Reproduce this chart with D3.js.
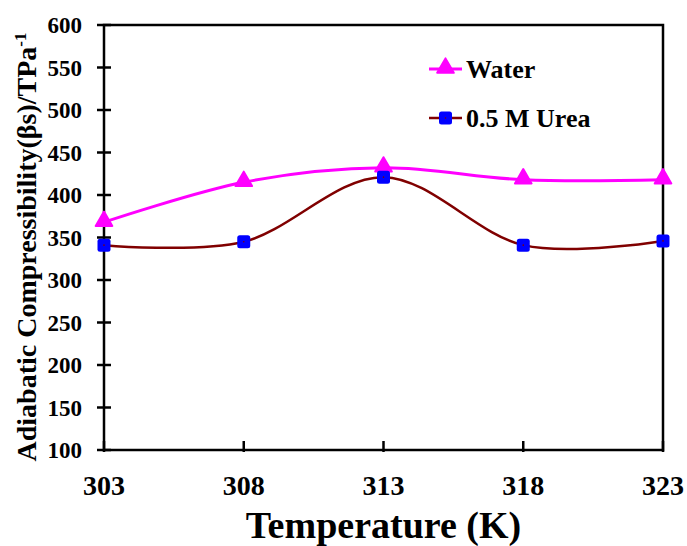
<!DOCTYPE html>
<html>
<head>
<meta charset="utf-8">
<script src="https://cdn.jsdelivr.net/npm/d3@7"></script>
<style>
  body { margin: 0; background: #fff; }
  text { font-family: "Liberation Serif", "Times New Roman", serif; font-weight: bold; }
</style>
</head>
<body>
<div id="chart"></div>
<script>
// data
var temps = [303, 308, 313, 318, 323];
var water = [368, 415, 432, 418, 418];
var urea = [341, 345, 421, 341, 346];
var yTicks = [100, 150, 200, 250, 300, 350, 400, 450, 500, 550, 600];

var width = 687, height = 546;
var margin = {left: 104, right: 24, top: 25, bottom: 96};

var svg = d3.select("#chart").append("svg")
    .attr("width", width)
    .attr("height", height);

var x = d3.scaleLinear().domain([303, 323]).range([margin.left, width - margin.right]);
var y = d3.scaleLinear().domain([100, 600]).range([height - margin.bottom, margin.top]);

// plot frame
svg.append("rect")
    .attr("x", x(303)).attr("y", y(600))
    .attr("width", x(323) - x(303)).attr("height", y(100) - y(600))
    .attr("fill", "none").attr("stroke", "#000").attr("stroke-width", 2.5);

// y axis ticks (crossing the axis)
var yAxis = svg.append("g").attr("transform", "translate(" + x(303) + ",0)");
yAxis.selectAll("line").data(yTicks).enter().append("line")
    .attr("x1", -7).attr("x2", 7)
    .attr("y1", function(d) { return y(d); })
    .attr("y2", function(d) { return y(d); })
    .attr("stroke", "#000").attr("stroke-width", 2.5);
yAxis.selectAll("text").data(yTicks).enter().append("text")
    .attr("x", -22)
    .attr("y", function(d) { return y(d); })
    .attr("dy", "0.35em")
    .attr("text-anchor", "end")
    .attr("font-size", 23)
    .text(function(d) { return d; });

// x axis ticks (inside)
var xAxis = svg.append("g").attr("transform", "translate(0," + y(100) + ")");
xAxis.selectAll("line").data(temps).enter().append("line")
    .attr("x1", function(d) { return x(d); })
    .attr("x2", function(d) { return x(d); })
    .attr("y1", -9).attr("y2", 2)
    .attr("stroke", "#000").attr("stroke-width", 2.5);
xAxis.selectAll("text").data(temps).enter().append("text")
    .attr("x", function(d) { return x(d); })
    .attr("y", 45)
    .attr("text-anchor", "middle")
    .attr("font-size", 28)
    .text(function(d) { return d; });

// axis titles
svg.append("text")
    .attr("x", (x(303) + x(323)) / 2)
    .attr("y", 538)
    .attr("text-anchor", "middle")
    .attr("font-size", 38)
    .text("Temperature (K)");

var yt = svg.append("text")
    .attr("transform", "translate(36," + 247 + ") rotate(-90)")
    .attr("text-anchor", "middle")
    .attr("font-size", 28);
yt.append("tspan").text("Adiabatic Compressibility(βs)/TPa");
yt.append("tspan").attr("dy", -10).attr("font-size", 17).text("-1");

// series
var line = d3.line()
    .x(function(d) { return x(d[0]); })
    .y(function(d) { return y(d[1]); })
    .curve(d3.curveCardinal.tension(0));

var series = [
    {name: "Water", values: water, color: "#ff00ff", marker: "triangle", mcolor: "#ff00ff", width: 3},
    {name: "0.5 M Urea", values: urea, color: "#800000", marker: "square", mcolor: "#0000ff", width: 2.5}
];

var triangle = d3.symbol().type(d3.symbolTriangle).size(120);

function drawMarker(g, s, cx, cy) {
    if (s.marker == "triangle") {
        g.append("path")
            .attr("d", triangle())
            .attr("transform", "translate(" + cx + "," + (cy - 1) + ")")
            .attr("fill", s.mcolor).attr("stroke", s.mcolor)
            .attr("stroke-width", 2).attr("stroke-linejoin", "round");
    } else {
        g.append("rect")
            .attr("x", cx - 6.5).attr("y", cy - 6.5)
            .attr("width", 13).attr("height", 13)
            .attr("rx", 2.5)
            .attr("fill", s.mcolor);
        g.append("circle").attr("cx", cx).attr("cy", cy).attr("r", 0.8).attr("fill", "#800000");
    }
}

series.forEach(function(s) {
    var pts = temps.map(function(t, i) { return [t, s.values[i]]; });
    svg.append("path")
        .attr("d", line(pts))
        .attr("fill", "none")
        .attr("stroke", s.color)
        .attr("stroke-width", s.width);
    var g = svg.append("g");
    pts.forEach(function(p) { drawMarker(g, s, x(p[0]), y(p[1])); });
});

// legend
var legend = svg.append("g");
series.forEach(function(s, i) {
    var ly = 69 + i * 49;
    legend.append("line")
        .attr("x1", 429).attr("x2", 462)
        .attr("y1", ly).attr("y2", ly)
        .attr("stroke", s.color).attr("stroke-width", s.width);
    drawMarker(legend, s, 445.5, ly);
    legend.append("text")
        .attr("x", 466).attr("y", ly)
        .attr("dy", "0.35em")
        .attr("font-size", 26)
        .text(s.name);
});
</script>
</body>
</html>
